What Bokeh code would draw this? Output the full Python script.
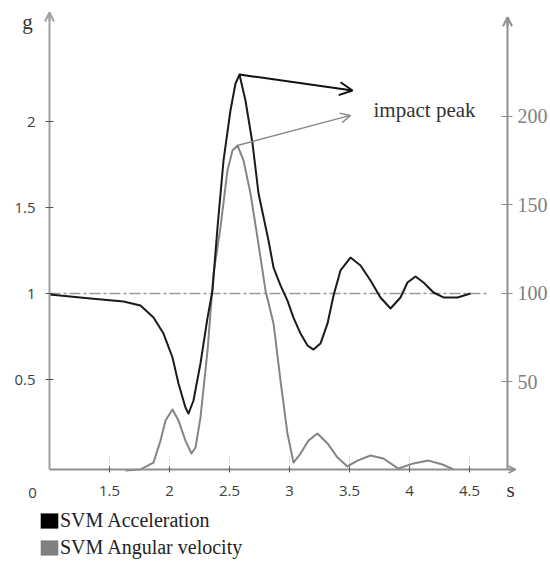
from bokeh.plotting import figure
from bokeh.models import (Range1d, LinearAxis, FixedTicker, Arrow, OpenHead, Label,
                          Legend, LegendItem, NumeralTickFormatter)
from bokeh.embed import file_html
from bokeh.resources import INLINE

# ---- data ----
acc_t = [1.0, 1.342, 1.617, 1.758, 1.867, 1.95, 2.025, 2.075, 2.133, 2.158, 2.2, 2.258, 2.317,
         2.358, 2.4, 2.45, 2.508, 2.55, 2.583, 2.633, 2.692, 2.742, 2.825, 2.867, 2.925, 2.983,
         3.033, 3.092, 3.15, 3.2, 3.258, 3.317, 3.367, 3.425, 3.508, 3.592, 3.675, 3.758,
         3.842, 3.925, 3.983, 4.05, 4.117, 4.2, 4.283, 4.4, 4.508]
acc_g = [0.994, 0.971, 0.953, 0.93, 0.86, 0.767, 0.628, 0.477, 0.337, 0.302, 0.378, 0.593, 0.86,
         1.017, 1.384, 1.773, 2.064, 2.221, 2.273, 2.122, 1.872, 1.581, 1.308, 1.151, 1.047, 0.959,
         0.86, 0.767, 0.698, 0.674, 0.709, 0.826, 0.988, 1.134, 1.209, 1.163, 1.076, 0.977,
         0.913, 0.977, 1.064, 1.099, 1.064, 1.006, 0.977, 0.977, 1.0]

ang_t = [1.633, 1.758, 1.867, 1.925, 1.967, 2.025, 2.075, 2.133, 2.183, 2.217, 2.258, 2.317,
         2.367, 2.425, 2.483, 2.525, 2.567, 2.617, 2.675, 2.733, 2.8, 2.867, 2.925, 2.983,
         3.033, 3.092, 3.158, 3.233, 3.317, 3.4, 3.483, 3.567, 3.675, 3.783, 3.908, 4.033,
         4.158, 4.275, 4.367]
ang_v = [0.0, 0.6, 4.5, 16.9, 28.2, 34.5, 28.2, 16.9, 9.6, 13.0, 29.9, 67.8,
         111.3, 137.3, 169.5, 180.8, 183.6, 175.1, 156.5, 131.6, 101.7, 83.1, 50.8, 20.9,
         4.5, 9.6, 16.9, 20.9, 15.3, 7.3, 2.3, 5.6, 8.5, 6.8, 1.1, 4.0,
         5.6, 3.4, 0.6]

baseline_t = [1.0, 4.65]
baseline_g = [1.0, 1.0]

x_ticks = [1.5, 2.0, 2.5, 3.0, 3.5, 4.0, 4.5]
y_ticks = [0.5, 1.0, 1.5, 2.0]
r_ticks = [50, 100, 150, 200]

acc_arrow_end = (3.525, 2.18)
ang_arrow_end = (3.508, 200.6)
note_pos = (3.70, 2.064)

series_names = ["SVM Acceleration", "SVM Angular velocity"]

# axis geometry (data units)
X0, X_RIGHT, X_ARROW = 1.0, 4.817, 4.883
G0, G_TOP = -0.023, 2.634
R0, R_TOP = 0.56, 256.0

# ---- figure ----
p = figure(width=550, height=561, output_backend="svg", toolbar_location=None,
           x_range=Range1d(0.5917, 5.175), y_range=Range1d(-0.558, 2.7035),
           x_axis_location=None, y_axis_location=None,
           min_border_left=0, min_border_right=0, min_border_top=0, min_border_bottom=0)
p.extra_y_ranges = {"right": Range1d(-51.4, 265.5)}
p.outline_line_color = None
p.grid.visible = False
p.background_fill_color = "white"

AX = "#8f8f8f"
AXL = "#a0a0a0"
SANS = "Open Sans"
SERIF = "Liberation Serif"

xa = LinearAxis(fixed_location=G0, bounds=(X0, X_ARROW), ticker=FixedTicker(ticks=x_ticks),
                formatter=NumeralTickFormatter(format="0.[0]"))
xa.axis_line_color = AX
xa.axis_line_width = 2
xa.major_tick_line_color = "#555555"
xa.major_tick_in = 3
xa.major_tick_out = 3
xa.minor_tick_line_color = None
xa.major_label_standoff = 14
xa.major_label_text_font = SANS
xa.major_label_text_font_size = "15px"
xa.major_label_text_color = "#404040"
p.add_layout(xa, "below")

ya = LinearAxis(fixed_location=X0, bounds=(G0, G_TOP), ticker=FixedTicker(ticks=y_ticks),
                formatter=NumeralTickFormatter(format="0.[0]"))
ya.axis_line_color = AXL
ya.axis_line_width = 2
ya.major_tick_line_color = "#555555"
ya.major_tick_in = 4
ya.major_tick_out = 4
ya.minor_tick_line_color = None
ya.major_label_standoff = 10
ya.major_label_text_font = SANS
ya.major_label_text_font_size = "15px"
ya.major_label_text_color = "#404040"
p.add_layout(ya, "left")

ra = LinearAxis(y_range_name="right", fixed_location=X_RIGHT, bounds=(R0, R_TOP),
                ticker=FixedTicker(ticks=r_ticks))
ra.axis_line_color = AX
ra.axis_line_width = 2
ra.major_tick_line_color = AX
ra.major_tick_in = 6
ra.major_tick_out = 5
ra.minor_tick_line_color = None
ra.major_label_standoff = 5
ra.major_label_text_font = SERIF
ra.major_label_text_font_size = "20px"
ra.major_label_text_color = "#808080"
p.add_layout(ra, "right")

# short dotted marks above the x ticks
p.segment(x0=x_ticks, y0=[G0] * len(x_ticks), x1=x_ticks, y1=[0.06] * len(x_ticks),
          line_color="#b0b0b0", line_dash="1 2", line_width=1)

# reference 1 g line
p.line(baseline_t, baseline_g, line_color="#999999", line_width=1.5, line_dash="11 3 3 3")

# curves
p.line(ang_t, ang_v, y_range_name="right", line_color="#858585", line_width=2,
       line_join="round")
p.line(acc_t, acc_g, line_color="#1a1a1a", line_width=2, line_join="round")

# axis arrows
p.add_layout(Arrow(end=OpenHead(size=9, line_color=AXL, line_width=2),
                   x_start=X0, y_start=G_TOP - 0.05, x_end=X0, y_end=G_TOP,
                   line_color=AXL, line_width=2))
p.add_layout(Arrow(end=OpenHead(size=9, line_color=AX, line_width=2),
                   x_start=X_RIGHT, y_start=R_TOP - 5, x_end=X_RIGHT, y_end=R_TOP,
                   y_range_name="right", line_color=AX, line_width=2))
p.add_layout(Arrow(end=OpenHead(size=7, line_color=AX, line_width=1.5),
                   x_start=X_ARROW - 0.05, y_start=G0, x_end=X_ARROW, y_end=G0,
                   line_color=AX, line_width=2))

# impact peak arrows
ia = acc_g.index(max(acc_g))
p.add_layout(Arrow(end=OpenHead(size=13, line_color="#111111", line_width=2),
                   x_start=acc_t[ia], y_start=acc_g[ia],
                   x_end=acc_arrow_end[0], y_end=acc_arrow_end[1],
                   line_color="#111111", line_width=2))
ib = ang_v.index(max(ang_v))
p.add_layout(Arrow(end=OpenHead(size=10, line_color="#888888", line_width=1.5),
                   x_start=ang_t[ib], y_start=ang_v[ib],
                   x_end=ang_arrow_end[0], y_end=ang_arrow_end[1], y_range_name="right",
                   line_color="#888888", line_width=1.5))

p.add_layout(Label(x=note_pos[0], y=note_pos[1], text="impact peak", text_font=SERIF,
                   text_font_size="21px", text_color="#333333", text_baseline="middle"))

# axis unit labels and the "0" origin label
p.add_layout(Label(x=0.817, y=2.576, text="g", text_font=SERIF, text_font_size="21px",
                   text_color="#333333", text_align="center", text_baseline="alphabetic"))
p.add_layout(Label(x=4.842, y=-0.140, text="s", text_font=SERIF, text_font_size="21px",
                   text_color="#333333", text_align="center", text_baseline="alphabetic"))
p.add_layout(Label(x=0.858, y=-0.157, text="0", text_font=SANS, text_font_size="15px",
                   text_color="#404040", text_align="center", text_baseline="middle"))

# legend (square swatches): zero-area quads at the series' first point
q1 = p.quad(left=[acc_t[0]], right=[acc_t[0]], top=[acc_g[0]], bottom=[acc_g[0]],
            fill_color="#000000", line_color=None)
q2 = p.quad(left=[ang_t[0]], right=[ang_t[0]], top=[ang_v[0]], bottom=[ang_v[0]],
            y_range_name="right", fill_color="#808080", line_color=None)
legend = Legend(items=[LegendItem(label=series_names[0], renderers=[q1]),
                       LegendItem(label=series_names[1], renderers=[q2])],
                location=(38, 2), orientation="vertical",
                glyph_width=22, glyph_height=19, label_height=19, spacing=4,
                label_standoff=0, padding=0, margin=0,
                border_line_color=None, background_fill_alpha=0,
                label_text_font=SERIF, label_text_font_size="20px",
                label_text_color="#222222")
p.add_layout(legend)

open("out.html", "w").write(file_html(p, INLINE))
